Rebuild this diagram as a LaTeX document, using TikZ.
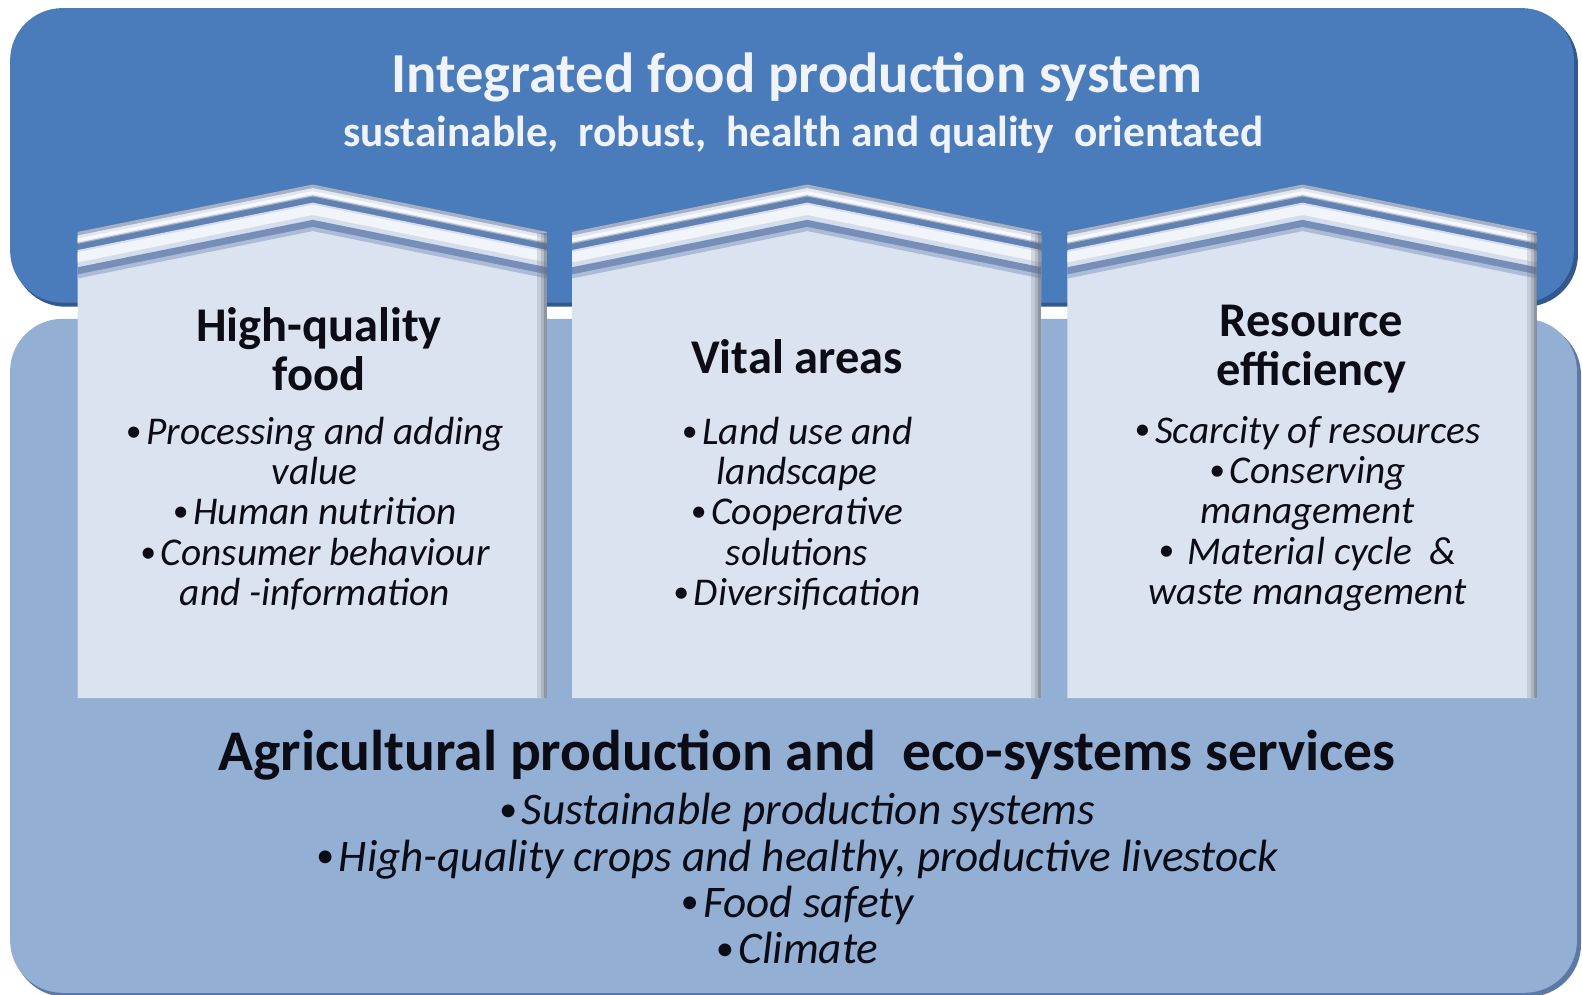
\documentclass[tikz,border=0pt]{standalone}
\usepackage{fontspec}
\setmainfont{Carlito}
\usepackage{tikz}
\definecolor{TopBlue}{RGB}{74,124,187}
\definecolor{TopShadow}{RGB}{50,88,142}
\definecolor{BaseBlue}{RGB}{147,175,212}
\definecolor{BaseShadow}{RGB}{92,120,164}
\definecolor{PillarFill}{RGB}{220,227,240}
\definecolor{PillarEdge}{RGB}{100,108,122}
\definecolor{RoofGrey}{RGB}{165,177,194}
\definecolor{RoofLight}{RGB}{226,232,241}
\definecolor{RoofWhite}{RGB}{247,249,252}
\definecolor{RoofGroove}{RGB}{96,129,178}
\definecolor{RoofBand}{RGB}{212,221,235}
\definecolor{RoofBandHi}{RGB}{241,245,250}
\definecolor{RoofShade}{RGB}{118,142,184}
\definecolor{RoofShadeLo}{RGB}{172,188,214}
\definecolor{TitleWhite}{RGB}{240,244,250}
\definecolor{TextDark}{RGB}{12,12,22}
\newcommand{\pbul}{\raisebox{0.08em}{\scalebox{0.8}{\textbullet}}\kern2.5pt}
\newcommand{\tightskip}{\lineskiplimit-20pt\relax}

\begin{document}
\begin{tikzpicture}[x=0.5pt,y=0.5pt,yscale=-1,xscale=1,
  headtitle/.style={text=TitleWhite, inner sep=0.75pt, font=\fontsize{28}{30}\selectfont\bfseries},
  headsub/.style={text=TitleWhite, inner sep=0.75pt, font=\fontsize{21.5}{24}\selectfont\bfseries},
  pillartitle/.style={text=TextDark, inner sep=0.75pt, align=center, font=\fontsize{24}{24}\selectfont\tightskip\bfseries},
  pillaritems/.style={text=TextDark, inner sep=0.75pt, align=center, font=\fontsize{19.5}{20}\selectfont\itshape},
  basetitle/.style={text=TextDark, inner sep=0.75pt, font=\fontsize{28.5}{30}\selectfont\bfseries},
  baseitems/.style={text=TextDark, inner sep=0.75pt, align=center, font=\fontsize{22.4}{23}\selectfont\itshape}]
\useasboundingbox (0,0) rectangle (1568,986);

%Shape: Rounded Rect [top band, shadow]
\fill [TopShadow, rounded corners=26pt] (13,12) rectangle (1564,304);
%Shape: Rounded Rect [top band]
\fill [TopBlue, rounded corners=26pt] (10,8) rectangle (1560,300);
%Shape: Rounded Rect [base, shadow]
\fill [BaseShadow, rounded corners=26pt] (13,320) rectangle (1567,988);
%Shape: Rounded Rect [base]
\fill [BaseBlue, rounded corners=26pt] (10,316) rectangle (1563,984);

%Shape: Pillars with roof
\foreach \px in {77,567,1058}{
  \fill [PillarFill] (\px,266) -- (\px+233,219) -- (\px+465,266) -- (\px+465,692) -- (\px,692) -- cycle;
  \begin{scope}
    \clip (\px,150) rectangle (\px+465,320);
    \foreach \o/\w/\c in {6/6pt/RoofGrey, 7/3.5pt/RoofLight, 8/1.5pt/RoofWhite, 15/3pt/RoofGroove,
                          27/9pt/RoofBand, 25/5pt/RoofBandHi, 40/5pt/RoofShade, 44/2pt/RoofShadeLo}
      \draw [\c, line width=\w, line join=miter] (\px-20,234+\o) -- (\px+233,183+\o) -- (\px+485,234+\o);
  \end{scope}
  % right edge shading
  \draw [PillarEdge, line width=2pt, opacity=0.2] (\px+457,231) -- (\px+457,692);
  \draw [PillarEdge, line width=1.5pt, opacity=0.4] (\px+460.5,231) -- (\px+460.5,692);
  \draw [PillarEdge, line width=1.5pt, opacity=0.65] (\px+463.5,231) -- (\px+463.5,692);
}

% Text Node
\draw (790,77) node (toptitle) [headtitle] {Integrated food production system};
% Text Node
\draw (796,133) node (topsub) [headsub] {sustainable,\ \ robust,\ \ health and quality\ \ orientated};

% Text Node
\draw (316,346) node (foodtitle) [pillartitle] {High-quality\\food};
% Text Node
\draw (790,354) node (vitaltitle) [pillartitle] {Vital areas};
% Text Node
\draw (1300,346) node (restitle) [pillartitle] {Resource\\efficiency};

% Text Node
\draw (312,509) node (foodlist) [pillaritems] {\pbul Processing and adding\\value\\\pbul Human nutrition\\\pbul Consumer behaviour\\and -information};
% Text Node
\draw (790,509) node (vitallist) [pillaritems] {\pbul Land use and\\landscape\\\pbul Cooperative\\solutions\\\pbul Diversification};
% Text Node
\draw (1296,509) node (reslist) [pillaritems] {\pbul Scarcity of resources\\\pbul Conserving\\management\\\pbul\ Material cycle\ \ \&\\waste management};

% Text Node
\draw (800,748) node (basetitle) [basetitle] {Agricultural production and\ \ eco-systems services};
% Text Node
\draw (790,871) node (baselist) [baseitems] {\pbul Sustainable production systems\\\pbul High-quality crops and healthy, productive livestock\\\pbul Food safety\\\pbul Climate};

\end{tikzpicture}
\end{document}
